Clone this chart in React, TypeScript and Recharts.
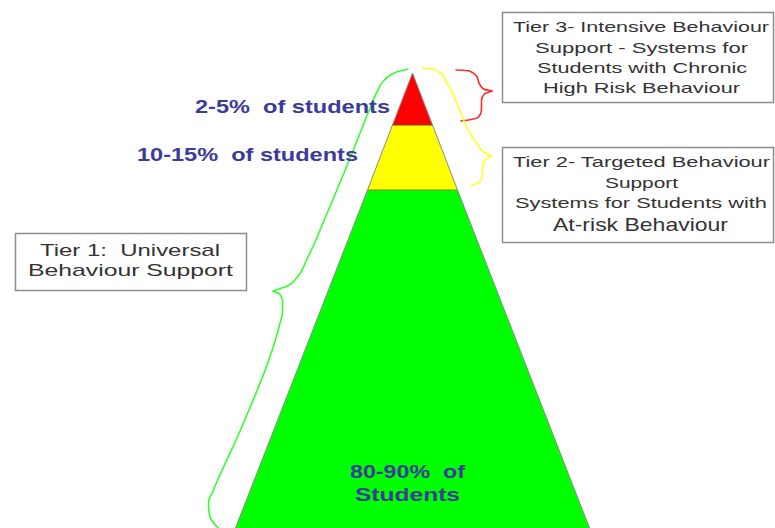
import React from 'react';
import { ComposedChart, Area, Line, XAxis, YAxis, ReferenceLine } from 'recharts';

// ---- data ----
const tierKeys = ['tier3', 'tier2', 'tier1'];
const tierColors = ['#ff0000', '#ffff00', '#00ff00'];
// depth (from the apex) of each tier boundary, and the half width of the pyramid there
const boundaryDepth = [0, 52, 117, 455];
const boundaryHalfWidth = [0, 20, 45, 177];

const shareLabels = ['2-5%  of students', '10-15%  of students', '80-90%  of', 'Students'];

const tier3BoxLines = ['Tier 3- Intensive Behaviour', 'Support - Systems for', 'Students with Chronic', 'High Risk Behaviour'];
const tier2BoxLines = ['Tier 2- Targeted Behaviour', 'Support', 'Systems for Students with', 'At-risk Behaviour'];
const tier1BoxLines = ['Tier 1:  Universal', 'Behaviour Support'];

// brace paths (x offset from pyramid centre, depth from apex)
const braceTier3Upper = [
  { x: 43, depth: -3 }, { x: 57, depth: -2 }, { x: 64, depth: 3 }, { x: 67, depth: 11 }, { x: 71, depth: 16 }, { x: 80, depth: 18 },
];
const braceTier3Lower = [
  { x: 80, depth: 18 }, { x: 72, depth: 21 }, { x: 69, depth: 27 }, { x: 69, depth: 37 }, { x: 66, depth: 44 }, { x: 56, depth: 47 }, { x: 48, depth: 48 },
];
const braceTier2Upper = [
  { x: 9, depth: -5 }, { x: 20, depth: -4 }, { x: 28, depth: 0 }, { x: 34, depth: 9 }, { x: 66, depth: 73 }, { x: 71, depth: 79 }, { x: 79, depth: 83 },
];
const braceTier2Lower = [
  { x: 79, depth: 83 }, { x: 72, depth: 88 }, { x: 70, depth: 95 }, { x: 70, depth: 103 }, { x: 67, depth: 109 }, { x: 58, depth: 113 },
];
const braceTier1Upper = [
  { x: -4, depth: -4 }, { x: -16, depth: -1 }, { x: -28, depth: 7 }, { x: -36, depth: 20 }, { x: -44, depth: 39 }, { x: -62, depth: 84 },
  { x: -84, depth: 137 }, { x: -105, depth: 185 }, { x: -116, depth: 205 }, { x: -125, depth: 213 }, { x: -140, depth: 218 },
];
const braceTier1Lower = [
  { x: -140, depth: 218 }, { x: -133, depth: 221 }, { x: -130, depth: 228 }, { x: -130, depth: 239 }, { x: -133, depth: 252 },
  { x: -172, depth: 357 }, { x: -199, depth: 417 }, { x: -204, depth: 430 }, { x: -203, depth: 442 }, { x: -198, depth: 451 }, { x: -192, depth: 457 },
];

// ---- chart table built from the arrays ----
const rows = boundaryDepth.map((depth, i) => {
  const hw = boundaryHalfWidth[i];
  const row: any = { depth, left: -hw, right: hw };
  tierKeys.forEach((key, k) => {
    row[key] = i === k || i === k + 1 ? [-hw, hw] : null;
  });
  return row;
});

const W = 775;
const H = 528;
const FONT = '"Liberation Sans", Arial, Helvetica, sans-serif';
const BLUE = '#3b3b98';
const BOX_TEXT = '#333333';

type TL = { text: string; cx: number; y: number; w: number; size: number; bold?: boolean; color: string };

const textLines: TL[] = [
  { text: tier3BoxLines[0], cx: 641, y: 31.5, w: 256, size: 15, color: BOX_TEXT },
  { text: tier3BoxLines[1], cx: 641.5, y: 52.5, w: 213, size: 15, color: BOX_TEXT },
  { text: tier3BoxLines[2], cx: 642, y: 73, w: 210, size: 15, color: BOX_TEXT },
  { text: tier3BoxLines[3], cx: 641.5, y: 93, w: 197, size: 15, color: BOX_TEXT },
  { text: tier2BoxLines[0], cx: 641.5, y: 166.5, w: 257, size: 15, color: BOX_TEXT },
  { text: tier2BoxLines[1], cx: 641.5, y: 188, w: 73, size: 15, color: BOX_TEXT },
  { text: tier2BoxLines[2], cx: 641, y: 208, w: 252, size: 15, color: BOX_TEXT },
  { text: tier2BoxLines[3], cx: 640.5, y: 231, w: 175, size: 19, color: BOX_TEXT },
  { text: tier1BoxLines[0], cx: 130, y: 256, w: 180, size: 17, color: BOX_TEXT },
  { text: tier1BoxLines[1], cx: 130.5, y: 276, w: 205, size: 17, color: BOX_TEXT },
  { text: shareLabels[0], cx: 292.5, y: 113, w: 195, size: 18, bold: true, color: BLUE },
  { text: shareLabels[1], cx: 247.5, y: 160.5, w: 221, size: 18, bold: true, color: BLUE },
  { text: shareLabels[2], cx: 407.5, y: 478, w: 115, size: 18, bold: true, color: BLUE },
  { text: shareLabels[3], cx: 407.5, y: 501, w: 105, size: 18, bold: true, color: BLUE },
];

const boxes = [
  { x: 502, y: 12, w: 271, h: 90 },
  { x: 502, y: 147, w: 271, h: 95 },
  { x: 15, y: 233, w: 231, h: 57 },
];

const braceStyle = { strokeWidth: 1.6, dot: false, activeDot: false, isAnimationActive: false } as const;

export default function App() {
  return (
    <div style={{ position: 'absolute', left: 0, top: 0, width: W, height: H, background: '#fff' }}>
      <ComposedChart
        width={W}
        height={H}
        data={rows}
        layout="vertical"
        margin={{ top: 0, right: 0, bottom: 0, left: 0 }}
      >
        <XAxis type="number" dataKey="right" domain={[-412.5, 362.5]} allowDataOverflow hide />
        <YAxis type="number" dataKey="depth" domain={[-73, 455]} allowDataOverflow hide />
        {tierKeys.map((key, k) => (
          <Area
            key={key}
            dataKey={key}
            type="linear"
            fill={tierColors[k]}
            fillOpacity={1}
            stroke="none"
            isAnimationActive={false}
            activeDot={false}
          />
        ))}
        <ReferenceLine
          segment={[
            { x: -boundaryHalfWidth[1], y: boundaryDepth[1] },
            { x: boundaryHalfWidth[1], y: boundaryDepth[1] },
          ]}
          stroke="#6b4a00"
          strokeWidth={1}
        />
        <ReferenceLine
          segment={[
            { x: -boundaryHalfWidth[2], y: boundaryDepth[2] },
            { x: boundaryHalfWidth[2], y: boundaryDepth[2] },
          ]}
          stroke="#7a8a00"
          strokeWidth={1}
        />
        <Line dataKey="left" type="linear" stroke="#8a8a8a" strokeWidth={1} dot={false} activeDot={false} isAnimationActive={false} />
        <Line dataKey="right" type="linear" stroke="#8a8a8a" strokeWidth={1} dot={false} activeDot={false} isAnimationActive={false} />

        <Line data={braceTier3Upper} dataKey="x" type="monotoneY" stroke="#ff2a2a" {...braceStyle} />
        <Line data={braceTier3Lower} dataKey="x" type="monotoneY" stroke="#ff2a2a" {...braceStyle} />
        <Line data={braceTier2Upper} dataKey="x" type="monotoneY" stroke="#ffff22" {...braceStyle} />
        <Line data={braceTier2Lower} dataKey="x" type="monotoneY" stroke="#ffff22" {...braceStyle} />
        <Line data={braceTier1Upper} dataKey="x" type="monotoneY" stroke="#33ff33" {...braceStyle} />
        <Line data={braceTier1Lower} dataKey="x" type="monotoneY" stroke="#33ff33" {...braceStyle} />
      </ComposedChart>

      <svg
        width={W}
        height={H}
        style={{ position: 'absolute', left: 0, top: 0, pointerEvents: 'none' }}
      >
        {boxes.map((b, i) => (
          <rect key={i} x={b.x + 0.5} y={b.y + 0.5} width={b.w} height={b.h} fill="#fff" stroke="#8c8c8c" strokeWidth={1.5} />
        ))}
        {textLines.map((t, i) => (
          <text
            key={i}
            x={t.cx}
            y={t.y}
            textAnchor="middle"
            textLength={t.w}
            lengthAdjust="spacingAndGlyphs"
            fontFamily={FONT}
            fontSize={t.size}
            fontWeight={t.bold ? 'bold' : 'normal'}
            fill={t.color}
            style={{ whiteSpace: 'pre' }}
          >
            {t.text}
          </text>
        ))}
      </svg>
    </div>
  );
}
